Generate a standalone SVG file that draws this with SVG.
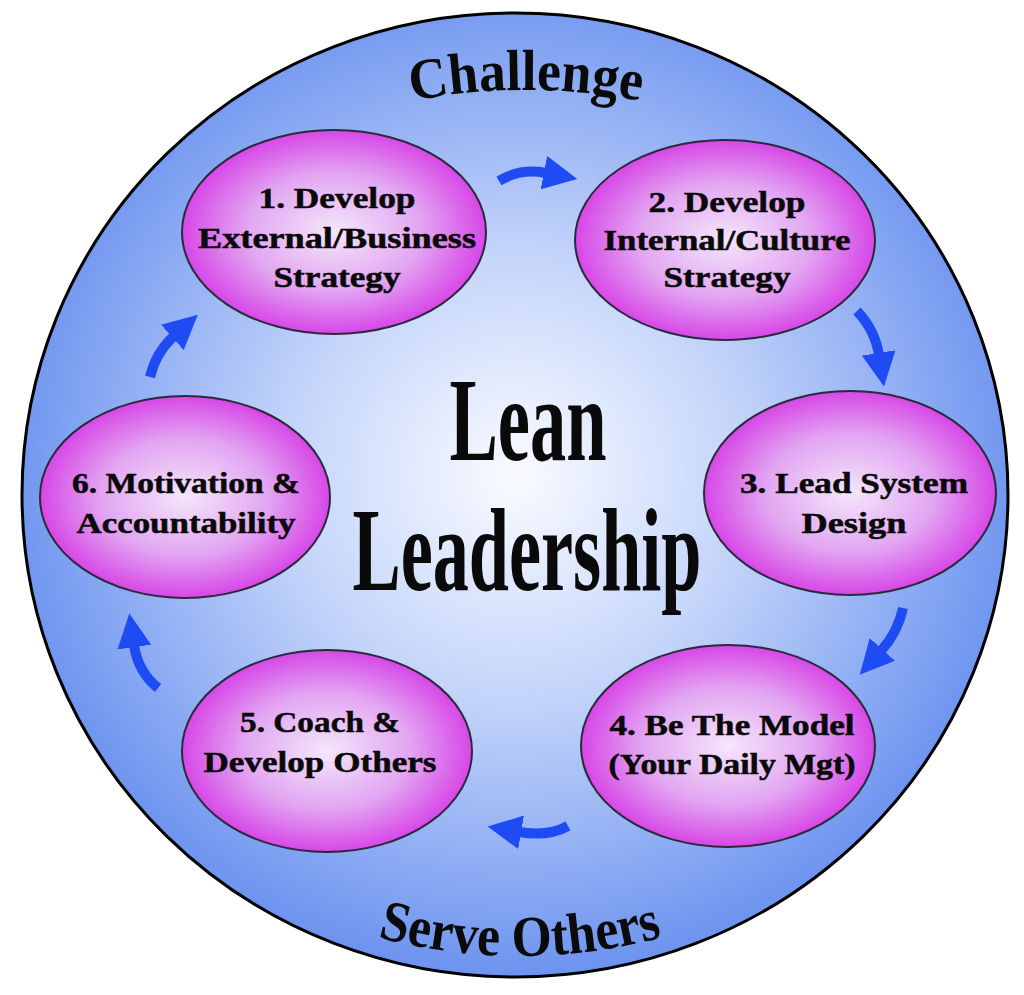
<svg xmlns="http://www.w3.org/2000/svg" xmlns:xlink="http://www.w3.org/1999/xlink" width="1024" height="995" viewBox="0 0 1024 995">
  <defs>
    <radialGradient id="bg" cx="0.5" cy="0.48" r="0.52">
      <stop offset="0" stop-color="#fafbff"/>
      <stop offset="0.45" stop-color="#c3d4fa"/>
      <stop offset="1" stop-color="#6c93ef"/>
    </radialGradient>
    <radialGradient id="node" cx="0.5" cy="0.5" r="0.52">
      <stop offset="0" stop-color="#f4e6fa"/>
      <stop offset="0.55" stop-color="#e2a6f2"/>
      <stop offset="1" stop-color="#d63ee6"/>
    </radialGradient>
    <marker id="head" markerUnits="userSpaceOnUse" markerWidth="34" markerHeight="34" viewBox="0 0 32 32" refX="2" refY="16" orient="auto">
      <path d="M0,0 L32,16 L0,32 z" fill="#1f4cf2"/>
    </marker>
    <path id="arcTop" d="M326,124.3 A600,600 0 0,1 726,124.3"/>
    <path id="arcBottom" d="M270,895.9 A550,550 0 0,0 770,895.9"/>
    <style>
      .node ellipse { fill: url(#node); stroke: #2a2a3a; stroke-width: 2; }
      .node text { font-family: "Liberation Serif", serif; font-weight: bold; font-size: 29px; fill: #0a0a0a; stroke: #0a0a0a; stroke-width: 0.5; text-anchor: middle; }
      .conn path { fill: none; stroke: #1f4cf2; stroke-width: 10; marker-end: url(#head); }
      .title { font-family: "Liberation Serif", serif; font-weight: bold; font-size: 118px; fill: #0a0a0a; text-anchor: middle; }
      .arc { font-family: "Liberation Serif", serif; font-weight: bold; font-size: 58px; fill: #0a0a0a; }
    </style>
  </defs>

  <g id="background">
    <ellipse cx="515" cy="495" rx="493" ry="482" fill="url(#bg)" stroke="#000" stroke-width="3"/>
  </g>

  <g id="outer-labels">
    <text class="arc" text-anchor="middle"><textPath xlink:href="#arcTop" href="#arcTop" startOffset="50%" textLength="230" lengthAdjust="spacingAndGlyphs">Challenge</textPath></text>
    <text class="arc" text-anchor="middle"><textPath xlink:href="#arcBottom" href="#arcBottom" startOffset="50%" textLength="288" lengthAdjust="spacingAndGlyphs">Serve Others</textPath></text>
  </g>

  <g id="center-title">
    <text class="title" transform="translate(528,460) scale(0.614,1)">Lean</text>
    <text class="title" transform="translate(527,590) scale(0.612,1)">Leadership</text>
  </g>

  <g id="connectors" class="conn">
    <path d="M499,181 Q520,168 546,173"/>
    <path d="M857,311 Q875,330 879,355"/>
    <path d="M903,608 Q898,632 881,651"/>
    <path d="M568,826 Q548,837 519,832"/>
    <path d="M158,688 Q138,672 134,645"/>
    <path d="M150,377 Q156,352 174,336"/>
  </g>

  <g id="node1" class="node">
    <ellipse cx="334" cy="232" rx="152" ry="102"/>
    <text x="337" y="208" textLength="157" lengthAdjust="spacingAndGlyphs">1. Develop</text>
    <text x="337" y="248" textLength="278" lengthAdjust="spacingAndGlyphs">External/Business</text>
    <text x="337" y="287" textLength="127" lengthAdjust="spacingAndGlyphs">Strategy</text>
  </g>

  <g id="node2" class="node">
    <ellipse cx="725" cy="240" rx="150" ry="100"/>
    <text x="727" y="212" textLength="157" lengthAdjust="spacingAndGlyphs">2. Develop</text>
    <text x="727" y="250" textLength="247" lengthAdjust="spacingAndGlyphs">Internal/Culture</text>
    <text x="727" y="287" textLength="127" lengthAdjust="spacingAndGlyphs">Strategy</text>
  </g>

  <g id="node3" class="node">
    <ellipse cx="850" cy="493" rx="146" ry="102"/>
    <text x="854" y="493" textLength="228" lengthAdjust="spacingAndGlyphs">3. Lead System</text>
    <text x="854" y="533" textLength="105" lengthAdjust="spacingAndGlyphs">Design</text>
  </g>

  <g id="node4" class="node">
    <ellipse cx="728" cy="746" rx="147" ry="101"/>
    <text x="732" y="735" textLength="245" lengthAdjust="spacingAndGlyphs">4. Be The Model</text>
    <text x="732" y="774" textLength="247" lengthAdjust="spacingAndGlyphs">(Your Daily Mgt)</text>
  </g>

  <g id="node5" class="node">
    <ellipse cx="327" cy="751" rx="145" ry="101"/>
    <text x="320" y="732" textLength="160" lengthAdjust="spacingAndGlyphs">5. Coach &amp;</text>
    <text x="320" y="772" textLength="233" lengthAdjust="spacingAndGlyphs">Develop Others</text>
  </g>

  <g id="node6" class="node">
    <ellipse cx="185" cy="497" rx="145" ry="101"/>
    <text x="186" y="493" textLength="228" lengthAdjust="spacingAndGlyphs">6. Motivation &amp;</text>
    <text x="186" y="533" textLength="219" lengthAdjust="spacingAndGlyphs">Accountability</text>
  </g>
</svg>
